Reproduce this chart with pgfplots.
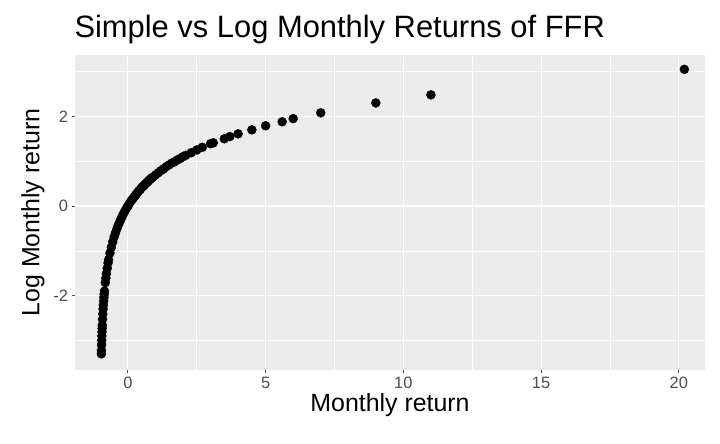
\documentclass[border=0pt]{standalone}
\usepackage{pgfplots}
\pgfplotsset{compat=1.18}
\usepackage{fontspec}
\setmainfont{Liberation Sans}
\definecolor{panel}{HTML}{EBEBEB}
\definecolor{tickc}{HTML}{4D4D4D}
\begin{document}
\begin{tikzpicture}[x=1bp,y=1bp]
\path[use as bounding box] (0,0) rectangle (720,444);
\begin{axis}[at={(75bp,74bp)},anchor=south west,
 scale only axis,width=630bp,height=315bp,
 xmin=-1.92,xmax=20.95,ymin=-3.66,ymax=3.37,
 axis background/.style={fill=panel},
 axis line style={draw=none},
 xtick={0,5,10,15,20},ytick={-2,0,2},
 minor xtick={2.5,7.5,12.5,17.5},minor ytick={-3,-1,1,3},
 grid=both,
 major grid style={white,line width=1.1bp},
 minor grid style={white,line width=0.55bp},
 tick align=outside,tick pos=left,
 major tick length=3.5bp,minor tick length=0pt,
 tick style={tickc,line width=0.8bp},
 ticklabel style={font=\fontsize{16.5}{19}\selectfont,text=tickc},
 /pgf/number format/assume math mode=true,
 yticklabel={\pgfmathprintnumber{\tick}},
 xlabel={\fontsize{25}{28}\selectfont Monthly return},
 ylabel={\fontsize{25}{28}\selectfont Log Monthly return},
 xlabel style={yshift=2bp},ylabel style={yshift=2bp},
 title={\fontsize{31}{34}\selectfont Simple vs Log Monthly Returns of FFR},
 title style={anchor=south west,at={(0,1)},xshift=-4bp,yshift=2bp},
 clip=false]
\addplot[only marks,mark=*,mark size=4.5bp,black] coordinates {
(20.2,3.05)(11,2.48)(9,2.30)(7,2.08)(6,1.95)(5.6,1.88)(5,1.79)(4.5,1.70)(4,1.61)(3.7,1.55)(3.5,1.50)(3.1,1.41)(3.0,1.39)(2.7,1.31)(2.5,1.25)(2.3,1.19)(2.1,1.13)(2.0,1.10)(1.9,1.06)(1.8,1.03)(1.7,0.99)(1.6,0.96)(1.5,0.92)(1.4,0.88)(1.3,0.83)(1.2,0.79)(1.1,0.74)(1.0,0.69)(0.9,0.64)(0.85,0.62)(0.8,0.59)(0.75,0.56)(0.7,0.53)(0.65,0.50)(0.6,0.47)(0.55,0.44)(0.5,0.41)(0.45,0.37)(0.4,0.34)(0.35,0.30)(0.3,0.26)(0.25,0.22)(0.2,0.18)(0.15,0.14)(0.1,0.10)(0.05,0.05)(0,0)(-0.05,-0.05)(-0.1,-0.105)(-0.15,-0.16)(-0.2,-0.22)(-0.25,-0.29)(-0.3,-0.36)(-0.35,-0.43)(-0.4,-0.51)(-0.45,-0.60)(-0.5,-0.69)(-0.55,-0.80)(-0.6,-0.92)(-0.65,-1.05)(-0.7,-1.20)(-0.72,-1.27)(-0.75,-1.39)(-0.78,-1.51)(-0.8,-1.61)(-0.82,-1.71)(-0.85,-1.90)(-0.86,-1.97)(-0.87,-2.04)(-0.88,-2.12)(-0.89,-2.21)(-0.9,-2.30)(-0.91,-2.41)(-0.92,-2.53)(-0.93,-2.66)(-0.935,-2.73)(-0.94,-2.81)(-0.945,-2.90)(-0.95,-3.00)(-0.955,-3.10)(-0.96,-3.22)(-0.963,-3.30)
};
\end{axis}
\end{tikzpicture}
\end{document}
